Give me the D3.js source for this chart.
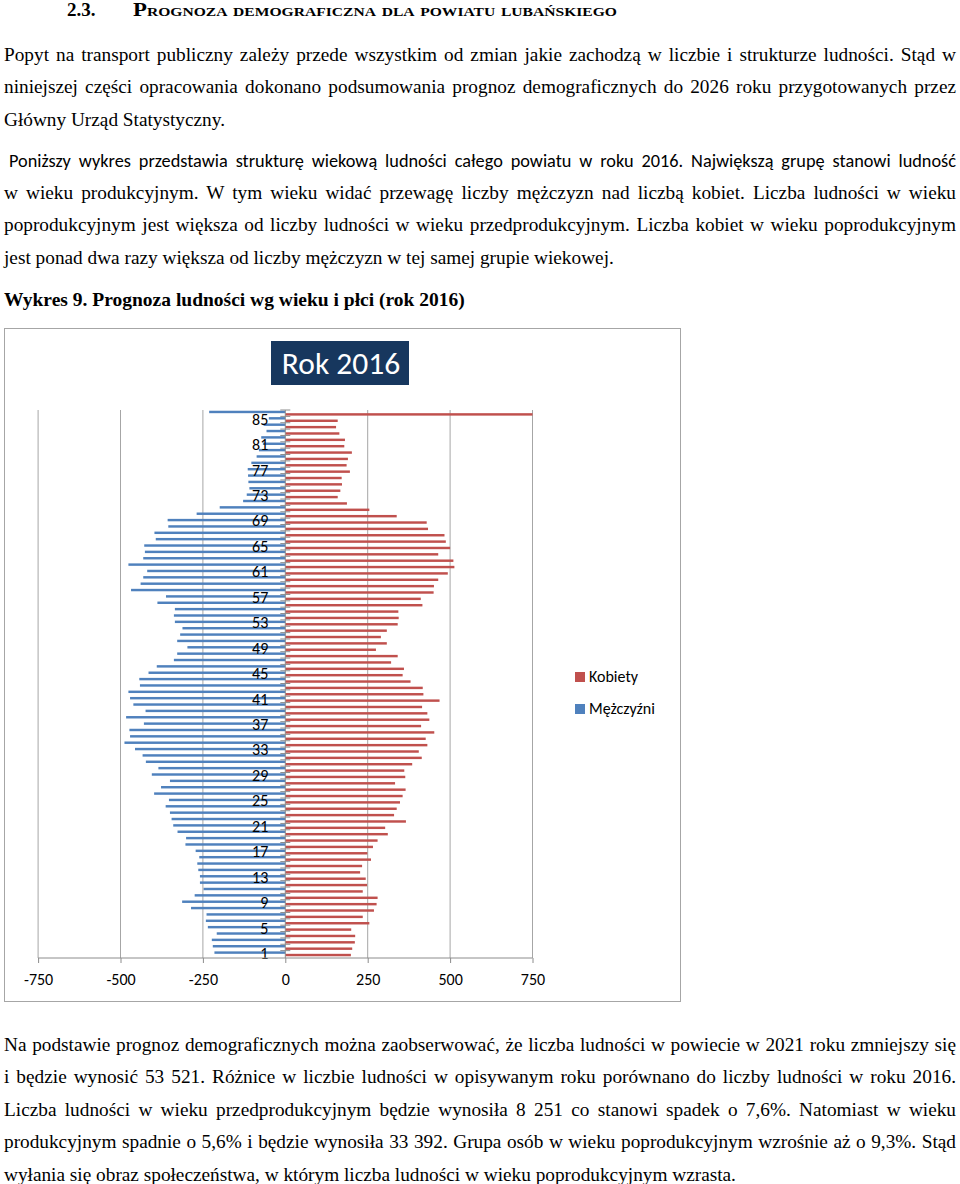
<!DOCTYPE html>
<html><head><meta charset="utf-8">
<script src="https://cdn.jsdelivr.net/npm/d3@7"></script>
<style>body{margin:0;background:#fff} svg{display:block}</style>
</head><body>
<svg id="page" width="960" height="1184"></svg>
<script>
// ---------- DATA ----------
const categories = ["1","2","3","4","5","6","7","8","9","10","11","12","13","14","15","16","17","18","19","20",
"21","22","23","24","25","26","27","28","29","30","31","32","33","34","35","36","37","38","39","40",
"41","42","43","44","45","46","47","48","49","50","51","52","53","54","55","56","57","58","59","60",
"61","62","63","64","65","66","67","68","69","70","71","72","73","74","75","76","77","78","79","80",
"81","82","83","84","85","86"];
const men = [215,220,223,208,235,241,239,286,313,275,248,259,259,264,267,261,272,303,301,327,
340,345,350,363,353,398,377,350,405,385,423,433,456,488,471,473,429,483,424,461,
471,476,441,443,415,390,338,328,297,328,319,312,335,338,335,388,362,468,439,431,
419,476,431,426,428,393,397,355,357,269,199,128,117,109,112,113,114,103,87,80,
68,73,57,66,50,231];
const women = [199,203,211,212,200,255,235,269,277,280,235,248,244,227,233,260,249,266,280,311,
303,366,330,338,348,356,365,333,364,361,385,414,405,431,426,452,412,437,431,415,
468,419,417,380,356,360,321,341,275,308,290,308,341,344,343,416,411,450,451,464,
493,513,510,464,500,487,483,433,429,338,255,187,159,167,172,171,196,186,190,202,
179,181,164,154,159,760];
const ageTickLabels = ["1","5","9","13","17","21","25","29","33","37","41","45","49","53","57","61","65","69","73","77","81","85"];
const valueTicks = [-750,-500,-250,0,250,500,750];
const seriesNames = ["Kobiety","Mężczyźni"];
const chartTitle = "Rok 2016";

// ---------- TEXT ----------
const heading = {num:"2.3.", title:"Prognoza demograficzna dla powiatu lubańskiego"};
const para1 = [
"Popyt na transport publiczny zależy przede wszystkim od zmian jakie zachodzą w liczbie i strukturze ludności. Stąd w",
"niniejszej części opracowania dokonano podsumowania prognoz demograficznych do 2026 roku przygotowanych przez",
"Główny Urząd Statystyczny."];
const para2First = "Poniższy wykres przedstawia strukturę wiekową ludności całego powiatu w roku 2016. Największą grupę stanowi ludność";
const para2 = [
"w wieku produkcyjnym. W tym wieku widać przewagę liczby mężczyzn nad liczbą kobiet. Liczba ludności w wieku",
"poprodukcyjnym jest większa od liczby ludności w wieku przedprodukcyjnym. Liczba kobiet w wieku poprodukcyjnym",
"jest ponad dwa razy większa od liczby mężczyzn w tej samej grupie wiekowej."];
const caption = "Wykres 9. Prognoza ludności wg wieku i płci (rok 2016)";
const para3 = [
"Na podstawie prognoz demograficznych można zaobserwować, że liczba ludności w powiecie w 2021 roku zmniejszy się",
"i będzie wynosić 53 521. Różnice w liczbie ludności w opisywanym roku porównano do liczby ludności w roku 2016.",
"Liczba ludności w wieku przedprodukcyjnym będzie wynosiła 8 251 co stanowi spadek o 7,6%. Natomiast w wieku",
"produkcyjnym spadnie o 5,6% i będzie wynosiła 33 392. Grupa osób w wieku poprodukcyjnym wzrośnie aż o 9,3%. Stąd",
"wyłania się obraz społeczeństwa, w którym liczba ludności w wieku poprodukcyjnym wzrasta."];

// ---------- RENDER ----------
const serif = "'Liberation Serif','Times New Roman',serif";
const sans = "Carlito, Calibri, Lato, 'Open Sans', sans-serif";
const svg = d3.select("#page");
const bodySize = 19.3;

function line(txt, x, y, opts = {}) {
  const t = svg.append("text").attr("x", x).attr("y", y)
    .attr("font-family", opts.family || serif)
    .attr("font-size", opts.size || bodySize)
    .attr("font-weight", opts.weight || "normal")
    .attr("fill", "#000")
    .style("white-space", "pre")
    .text(txt);
  if (opts.right) {
    const nat = t.node().getComputedTextLength();
    const spaces = (txt.match(/ /g) || []).length;
    if (spaces) t.attr("word-spacing", ((opts.right - x) - nat) / spaces);
  }
  return t;
}

// heading
line(heading.num, 67, 16, {weight:"bold", size:19});
svg.append("text").attr("x",133).attr("y",16)
  .attr("font-family", serif).attr("font-size",19).attr("font-weight","bold")
  .style("font-variant","small-caps")
  .attr("textLength",484).attr("lengthAdjust","spacingAndGlyphs")
  .text(heading.title);

const L = 4, R = 956, LH = 32.4;
para1.forEach((s,i) => line(s, L, 61 + i*LH, i < para1.length-1 ? {right:R} : {}));
line(para2First, 9, 167, {family:sans, size:18.3, right:R});
para2.forEach((s,i) => line(s, L, 199 + i*LH, i < para2.length-1 ? {right:R} : {}));
line(caption, L, 306, {weight:"bold", size:19.5});
para3.forEach((s,i) => line(s, L, 1051 + i*LH, i < para3.length-1 ? {right:R} : {}));

// ---------- CHART ----------
svg.append("rect").attr("x",4.5).attr("y",328.5).attr("width",676).attr("height",673)
  .attr("fill","#fff").attr("stroke","#a6a6a6").attr("stroke-width",1);

// title
const tg = svg.append("g");
tg.append("rect").attr("x",271).attr("y",341).attr("width",138).attr("height",44).attr("fill","#17375e");
tg.append("text").attr("x",341).attr("y",374).attr("text-anchor","middle")
  .attr("font-family",sans).attr("font-size",31.5).attr("fill","#fff").text(chartTitle);

const x = d3.scaleLinear().domain([-750,750]).range([38.1,532.5]).clamp(true);
const y = d3.scaleBand().domain(categories.slice().reverse()).range([410,957]);
const sub = d3.scaleBand().domain(["M","K"]).range([0,y.bandwidth()]).paddingOuter(0.3);
const plotTop = 410, plotBottom = 958;

// gridlines
svg.append("g").selectAll("line").data(valueTicks.filter(d => d !== 0)).join("line")
  .attr("x1", d => x(d)).attr("x2", d => x(d)).attr("y1", plotTop).attr("y2", plotBottom)
  .attr("stroke","#a6a6a6").attr("stroke-width",1);

// bars
const bars = svg.append("g");
bars.selectAll("rect.m").data(categories).join("rect").attr("class","m")
  .attr("x", (d,i) => x(-men[i])).attr("width", (d,i) => x(0) - x(-men[i]))
  .attr("y", d => y(d) + sub("M")).attr("height", sub.bandwidth()).attr("fill","#4f81bd");
bars.selectAll("rect.k").data(categories).join("rect").attr("class","k")
  .attr("x", x(0)).attr("width", (d,i) => x(women[i]) - x(0))
  .attr("y", d => y(d) + sub("K")).attr("height", sub.bandwidth()).attr("fill","#c0504d");

// category axis (vertical at 0)
const ca = svg.append("g");
ca.append("line").attr("x1",x(0)).attr("x2",x(0)).attr("y1",plotTop).attr("y2",plotBottom)
  .attr("stroke","#8c8c8c");
ca.selectAll("line.t").data(categories).join("line").attr("class","t")
  .attr("x1", x(0)-5).attr("x2", x(0)+5)
  .attr("y1", d => y(d)).attr("y2", d => y(d))
  .attr("stroke","#8c8c8c").attr("stroke-width",1);
const yAxis = d3.axisLeft(y).tickValues(ageTickLabels).tickSize(0).tickPadding(17);
const yg = svg.append("g").attr("transform",`translate(${x(0)},0)`).call(yAxis);
yg.select(".domain").remove();
yg.selectAll("text").attr("font-family",sans).attr("font-size",16).attr("fill","#000");

// value axis
const xAxis = d3.axisBottom(x).tickValues(valueTicks).tickSize(5).tickPadding(11).tickFormat(d => String(d));
const xg = svg.append("g").attr("transform",`translate(0,${plotBottom})`).call(xAxis);
xg.select(".domain").attr("stroke","#8c8c8c").attr("d", `M${x(-750)},0H${x(750)}`);
xg.selectAll(".tick line").attr("stroke","#8c8c8c");
xg.selectAll("text").attr("font-family",sans).attr("font-size",16).attr("fill","#000");

// legend
const colors = {"Kobiety":"#c0504d","Mężczyźni":"#4f81bd"};
const lg = svg.append("g").selectAll("g").data(seriesNames).join("g")
  .attr("transform",(d,i) => `translate(575,${672 + i*32})`);
lg.append("rect").attr("width",10).attr("height",10).attr("fill", d => colors[d]);
lg.append("text").attr("x",14).attr("y",10).attr("font-family",sans).attr("font-size",16)
  .attr("fill","#000").text(d => d);
</script>
</body></html>
